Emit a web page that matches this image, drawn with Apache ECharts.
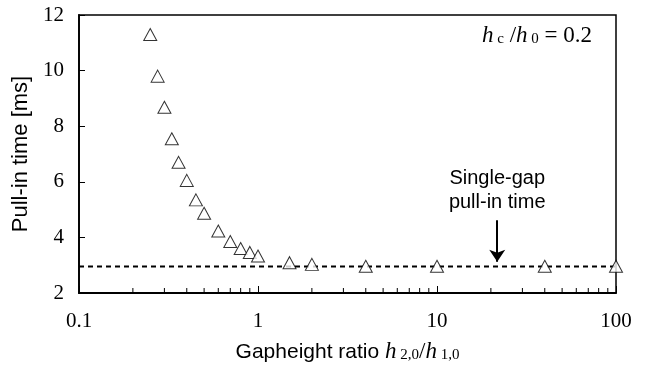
<!DOCTYPE html>
<html>
<head>
<meta charset="utf-8">
<style>
  html, body { margin: 0; padding: 0; background: #fff; }
  #chart { width: 646px; height: 370px; }
</style>
<script src="https://cdn.jsdelivr.net/npm/echarts@6/dist/echarts.min.js"></script>
</head>
<body>
<div id="chart"></div>
<script>
// gap height ratio h2,0/h1,0 and pull-in time [ms]
const gapRatio = [0.25, 0.275, 0.3, 0.33, 0.36, 0.4, 0.45, 0.5, 0.6, 0.7, 0.8, 0.9, 1, 1.5, 2, 4, 10, 40, 100]
const pullInTime = [11.3, 9.8, 8.68, 7.55, 6.7, 6.05, 5.35, 4.87, 4.23, 3.85, 3.6, 3.46, 3.33, 3.09, 3.03, 2.96, 2.96, 2.96, 2.96]

// single-gap reference level
const singleGapRange = [0.1, 100]
const singleGapTime = 2.95

// arrow pointing at the single-gap line
const arrowX = 21.7
const arrowFrom = 4.62
const arrowTo = 3.12

const xTicks = [0.1, 1, 10, 100]
const xMinorTicks = [0.2, 0.3, 0.4, 0.5, 0.6, 0.7, 0.8, 0.9, 2, 3, 4, 5, 6, 7, 8, 9, 20, 30, 40, 50, 60, 70, 80, 90]

const SANS = 'Liberation Sans, Arial, sans-serif'
const SERIF = 'Liberation Serif, Times New Roman, serif'

const chart = echarts.init(document.getElementById('chart'))

chart.setOption({
  animation: false,
  grid: {
    left: 79,
    right: 30,
    top: 15,
    bottom: 77,
    show: true,
    borderColor: '#000',
    borderWidth: 1.5,
  },
  xAxis: {
    type: 'log',
    logBase: 10,
    min: 0.1,
    max: 100,
    name: '{a|Gapheight ratio }{i|h}{s| 2,0}{n|/}{i|h}{s| 1,0}',
    nameLocation: 'middle',
    nameGap: 44,
    nameTextStyle: {
      rich: {
        a: { fontFamily: SANS, fontSize: 21, color: '#000', lineHeight: 26, verticalAlign: 'bottom' },
        i: { fontFamily: SERIF, fontSize: 23, fontStyle: 'italic', color: '#000', lineHeight: 26, verticalAlign: 'bottom' },
        n: { fontFamily: SERIF, fontSize: 23, color: '#000', lineHeight: 26, verticalAlign: 'bottom' },
        s: { fontFamily: SERIF, fontSize: 15, color: '#000', lineHeight: 15, verticalAlign: 'bottom' },
      },
    },
    axisLine: { lineStyle: { color: '#000', width: 1.8 } },
    axisTick: { inside: true, length: 7, lineStyle: { color: '#000', width: 1 } },
    axisLabel: {
      color: '#000',
      fontFamily: SERIF,
      fontSize: 21,
      margin: 18,
      formatter: (v) => (xTicks.some((t) => Math.abs(t - v) < 1e-9) ? String(v) : ''),
    },
    splitLine: { show: false },
  },
  yAxis: {
    type: 'value',
    min: 2,
    max: 12,
    interval: 2,
    name: 'Pull-in time [ms]',
    nameLocation: 'middle',
    nameGap: 41,
    nameTextStyle: { fontFamily: SANS, fontSize: 22, color: '#000' },
    axisLine: { show: true, lineStyle: { color: '#000', width: 1.8 } },
    axisTick: { show: true, inside: true, length: 6, lineStyle: { color: '#000', width: 1 } },
    axisLabel: { color: '#000', fontFamily: SERIF, fontSize: 21, margin: 15 },
    splitLine: { show: false },
  },
  graphic: [
    {
      type: 'text',
      right: 54,
      top: 24,
      style: {
        text: '{i|h}{s| c}{n| /}{i|h}{s| 0}{n| = 0.2}',
        rich: {
          i: { fontFamily: SERIF, fontSize: 23, fontStyle: 'italic', fill: '#000', lineHeight: 26, verticalAlign: 'bottom' },
          n: { fontFamily: SERIF, fontSize: 23, fill: '#000', lineHeight: 26, verticalAlign: 'bottom' },
          s: { fontFamily: SERIF, fontSize: 15, fill: '#000', lineHeight: 15, verticalAlign: 'bottom' },
        },
      },
    },
  ],
  series: [
    {
      type: 'line',
      data: singleGapRange.map((x) => [x, singleGapTime]),
      symbol: 'none',
      silent: true,
      lineStyle: { color: '#000', width: 2, type: [5, 4] },
      markLine: {
        silent: true,
        symbol: ['none', 'arrow'],
        symbolSize: 12,
        lineStyle: { color: '#000', width: 2, type: 'solid' },
        label: {
          show: true,
          position: 'start',
          distance: 6,
          formatter: 'Single-gap\npull-in time',
          color: '#000',
          fontFamily: SANS,
          fontSize: 20,
          lineHeight: 24,
          align: 'center',
        },
        data: [[{ coord: [arrowX, arrowFrom] }, { coord: [arrowX, arrowTo] }]],
      },
      z: 1,
    },
    {
      type: 'custom',
      silent: true,
      clip: false,
      data: xMinorTicks.map((x) => [x, 2]),
      renderItem: (params, api) => {
        const p = api.coord([api.value(0), api.value(1)])
        return {
          type: 'line',
          shape: { x1: p[0], y1: p[1], x2: p[0], y2: p[1] - 5 },
          style: { stroke: '#000', lineWidth: 1 },
        }
      },
    },
    {
      type: 'scatter',
      data: gapRatio.map((x, i) => [x, pullInTime[i]]),
      symbol: 'triangle',
      symbolSize: [13, 12],
      clip: false,
      itemStyle: { color: '#fff', borderColor: '#000', borderWidth: 1 },
      z: 3,
    },
  ],
})
</script>
</body>
</html>
